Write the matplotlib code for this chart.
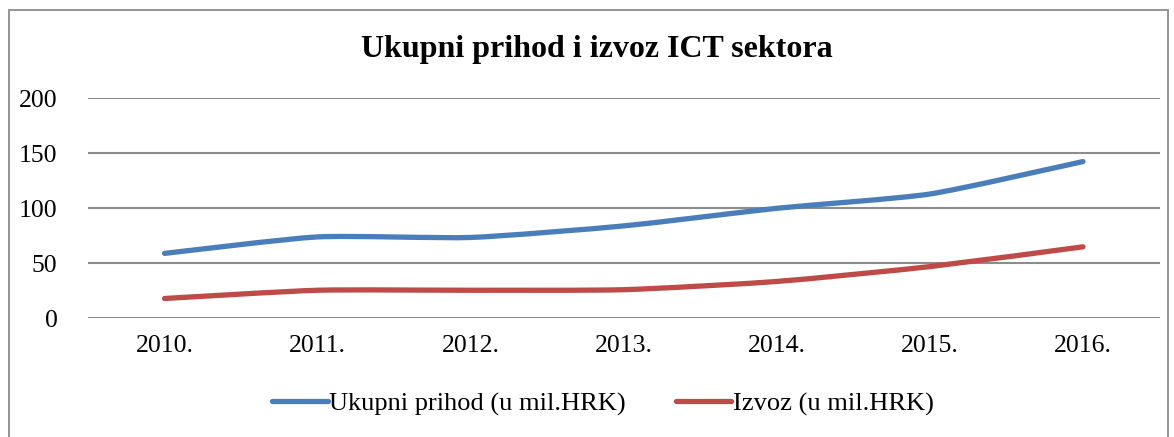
import numpy as np
import matplotlib
import matplotlib.pyplot as plt
from matplotlib.path import Path
from matplotlib.patches import PathPatch, Rectangle
from matplotlib.lines import Line2D

plt.rcParams['font.family'] = ['Liberation Serif', 'DejaVu Serif']

godine = ['2010.', '2011.', '2012.', '2013.', '2014.', '2015.', '2016.']
prihod = [59, 74, 73.5, 84, 100, 113, 142.5]
izvoz = [18, 25.5, 25.5, 26, 33.5, 47, 65]

plava = '#4A7EBB'
crvena = '#BE4B48'
siva = '#8C8C8C'


def glatka_linija(xs, ys, k=10):
    # excel-like smoothed line (bezier kroz tocke)
    pts = np.column_stack([xs, ys]).astype(float)
    verts = [pts[0]]
    codes = [Path.MOVETO]
    n = len(pts)
    for i in range(n - 1):
        p0 = pts[i - 1] if i > 0 else pts[i]
        p1 = pts[i]
        p2 = pts[i + 1]
        p3 = pts[i + 2] if i + 2 < n else pts[i + 1]
        c1 = p1 + (p2 - p0) / k
        c2 = p2 - (p3 - p1) / k
        verts += [c1, c2, p2]
        codes += [Path.CURVE4] * 3
    return Path(verts, codes)


fig = plt.figure(figsize=(11.74, 4.37), dpi=100)
ax = fig.add_axes([88 / 1174, 1 - 318.3 / 437, (1159.5 - 88) / 1174, 220 / 437])

x = np.arange(len(godine))
for vals, boja in [(prihod, plava), (izvoz, crvena)]:
    ax.add_patch(PathPatch(glatka_linija(x, vals), facecolor='none', edgecolor=boja,
                           lw=3.8, capstyle='round', joinstyle='round', zorder=3))

ax.set_xlim(-0.5, len(godine) - 0.5)
ax.set_ylim(0, 200)
ax.set_yticks([0, 50, 100, 150, 200])
ax.set_xticks(x)
ax.set_xticklabels(godine)
ax.tick_params(axis='both', length=0, labelsize=18.5)
ax.tick_params(axis='y', pad=22)
ax.tick_params(axis='x', pad=12)
for s in ax.spines.values():
    s.set_visible(False)
ax.grid(axis='y', color=siva, lw=1.5)
ax.set_axisbelow(True)

fig.text(597 / 1174, 1 - 50 / 437, 'Ukupni prihod i izvoz ICT sektora',
         ha='center', va='center', fontsize=23, fontweight='bold')

handles = [Line2D([], [], color=plava, lw=3.8, solid_capstyle='round'),
           Line2D([], [], color=crvena, lw=3.8, solid_capstyle='round')]
fig.legend(handles, ['Ukupni prihod (u mil.HRK)', 'Izvoz (u mil.HRK)'],
           loc='center', bbox_to_anchor=(603 / 1174, 1 - 404 / 437), ncol=2,
           frameon=False, fontsize=19, handlelength=2.1, handletextpad=0.05,
           columnspacing=1.9)

okvir = Rectangle((8.5 / 1174, -0.05), (1168 - 8.5) / 1174, 0.05 + 1 - 10 / 437,
                  transform=fig.transFigure, facecolor='none', edgecolor=siva,
                  lw=1.3, clip_on=False)
fig.patches.append(okvir)

fig.savefig('out.png', dpi=100)
